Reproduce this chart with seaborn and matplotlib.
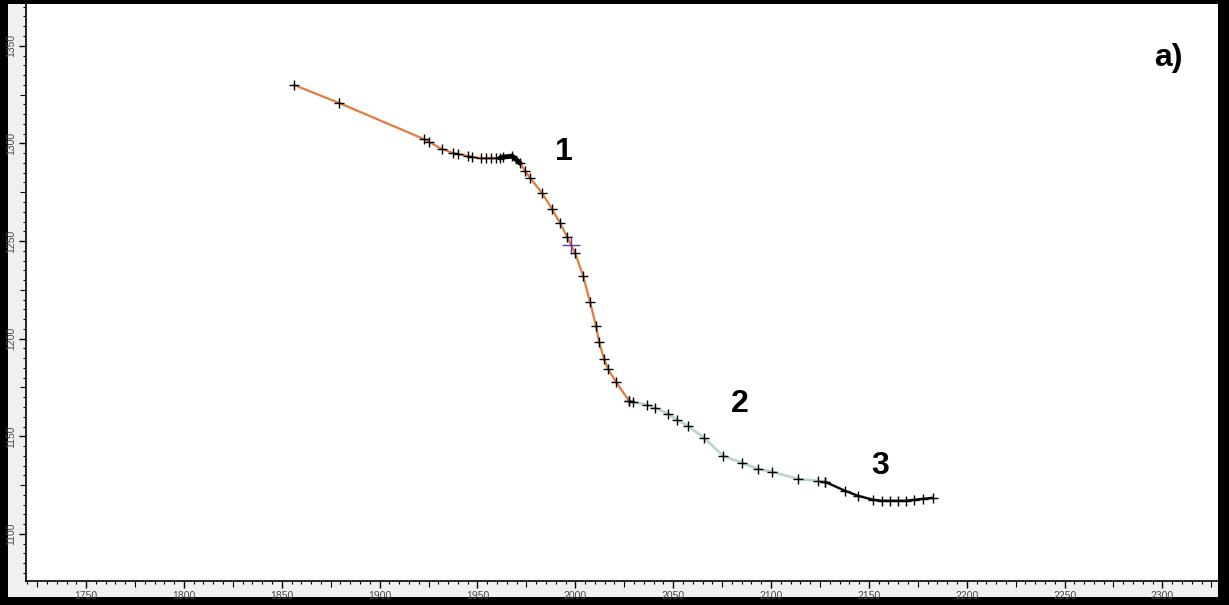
import numpy as np
import pandas as pd
import matplotlib
matplotlib.use("Agg")
import matplotlib.pyplot as plt
from matplotlib.ticker import MultipleLocator
import seaborn as sns

# Profile segment 1 (orange): upper slope down to the foot of the scarp
seg1_x = [1856.3, 1879.3, 1922.7, 1925.3, 1931.9, 1937.5, 1940.1, 1945.2, 1947.2,
          1951.8, 1954.4, 1956.9, 1959.5, 1961.5, 1963.1, 1967.7, 1971.8, 1974.3,
          1976.9, 1983.0, 1988.1, 1992.2, 1995.8, 1999.9, 2004.0, 2007.5, 2010.6,
          2012.1, 2014.7, 2016.7, 2020.8, 2027.5]
seg1_y = [1329.9, 1320.7, 1302.2, 1300.7, 1297.1, 1295.1, 1294.6, 1293.5, 1293.0,
          1292.5, 1292.5, 1292.5, 1292.5, 1292.5, 1293.0, 1293.5, 1289.9, 1285.8,
          1282.3, 1274.6, 1266.4, 1259.2, 1252.1, 1243.9, 1232.1, 1218.8, 1206.5,
          1198.3, 1189.6, 1184.5, 1177.8, 1168.1]

# Short dense stretch at the scarp crest
crest_x = [1961.5, 1963.1, 1967.7, 1971.8]
crest_y = [1292.5, 1293.0, 1293.5, 1289.9]

# Profile segment 2 (pale green): middle terrace
seg2_x = [2027.5, 2029.5, 2036.7, 2040.8, 2047.4, 2052.0, 2057.6, 2065.8, 2075.5,
          2085.2, 2093.4, 2100.5, 2113.8, 2124.0, 2127.6]
seg2_y = [1168.1, 1167.6, 1166.1, 1164.5, 1161.5, 1158.4, 1155.3, 1149.2, 1140.0,
          1136.4, 1133.3, 1131.8, 1128.2, 1127.2, 1126.7]

# Profile segment 3 (black): lower flat
seg3_x = [2127.6, 2137.8, 2144.5, 2152.2, 2156.7, 2160.8, 2164.9, 2169.0, 2173.1,
          2177.7, 2182.8]
seg3_y = [1126.7, 1122.1, 1119.5, 1117.5, 1117.0, 1117.0, 1117.0, 1117.0, 1117.5,
          1118.0, 1118.5]

# Highlighted station
mark_x = [1997.8]
mark_y = [1248.0]

# Segment labels
seg_labels = ["1", "2", "3"]
seg_label_x = [1994.3, 2084.2, 2155.7]
seg_label_y = [1295.6, 1166.6, 1134.9]

x_ticks = list(range(1750, 2301, 50))
y_ticks = list(range(1100, 1351, 50))

sns.set_style("white")
plt.rcParams["font.family"] = ["Liberation Sans", "DejaVu Sans"]

W, H = 1229, 605
fig = plt.figure(figsize=(W / 100, H / 100), dpi=100, facecolor="black")

# light grey ruler strip behind the plotting area
bg = fig.add_axes([8 / W, 8 / H, 1210 / W, 593 / H], facecolor="#f0f0f0", zorder=0)
bg.set_axis_off()
bg.add_patch(plt.Rectangle((0, 0), 1, 1, transform=bg.transAxes,
                           facecolor="#f0f0f0", edgecolor="none"))

ax = fig.add_axes([26 / W, 24 / H, 1192 / W, 577 / H], facecolor="white", zorder=1)

d1 = pd.DataFrame({"x": seg1_x, "y": seg1_y})
d2 = pd.DataFrame({"x": seg2_x, "y": seg2_y})
d3 = pd.DataFrame({"x": seg3_x, "y": seg3_y})
dc = pd.DataFrame({"x": crest_x, "y": crest_y})

sns.lineplot(data=d1, x="x", y="y", sort=False, estimator=None, ax=ax,
             color="#e27c3e", linewidth=1.6)
sns.lineplot(data=d2, x="x", y="y", sort=False, estimator=None, ax=ax,
             color="#bcd6c8", linewidth=2.0)
sns.lineplot(data=d3, x="x", y="y", sort=False, estimator=None, ax=ax,
             color="#111111", linewidth=1.8)
sns.lineplot(data=dc, x="x", y="y", sort=False, estimator=None, ax=ax,
             color="black", linewidth=3.5)

for d in (d1, d2, d3):
    sns.scatterplot(data=d, x="x", y="y", marker="+", s=45, color="black",
                    linewidth=1.0, ax=ax, zorder=5)
sns.scatterplot(x=mark_x, y=mark_y, marker="+", s=170, color="#5b3a9a",
                linewidth=1.0, ax=ax, zorder=6)

for t, tx, ty in zip(seg_labels, seg_label_x, seg_label_y):
    ax.text(tx, ty, t, fontsize=23, fontweight="bold", ha="center", va="center",
            color="black")
ax.text(0.958, 0.906, "a)", transform=ax.transAxes, fontsize=23,
        fontweight="bold", ha="center", va="center", color="black")

ax.set_xlim(1719.3, 2328.4)
ax.set_ylim(1075.9, 1371.4)
ax.set_xticks(x_ticks)
ax.set_yticks(y_ticks)
ax.xaxis.set_minor_locator(MultipleLocator(5))
ax.yaxis.set_minor_locator(MultipleLocator(5))
ax.set_xlabel("")
ax.set_ylabel("")

for s in ("top", "right"):
    ax.spines[s].set_visible(False)
for s in ("left", "bottom"):
    ax.spines[s].set_color("black")
    ax.spines[s].set_linewidth(1.2)

ax.tick_params(which="major", direction="out", length=5, width=1, color="black",
               labelsize=7.5, labelcolor="#4a4a4a", pad=2, left=True, bottom=True)
ax.tick_params(which="minor", direction="out", length=2.5, width=0.8,
               color="black", left=True, bottom=True)
for lab in ax.get_yticklabels():
    lab.set_rotation(90)
    lab.set_va("center")

# ruler-style: every 25 units gets a slightly longer minor tick
fig.canvas.draw()
for axis in (ax.xaxis, ax.yaxis):
    locs = axis.get_minorticklocs()
    for tick, loc in zip(axis.get_minor_ticks(), locs):
        if abs(loc / 25 - round(loc / 25)) < 1e-6:
            tick.tick1line.set_markersize(4)

fig.savefig("out.png", dpi=100, facecolor="black")
